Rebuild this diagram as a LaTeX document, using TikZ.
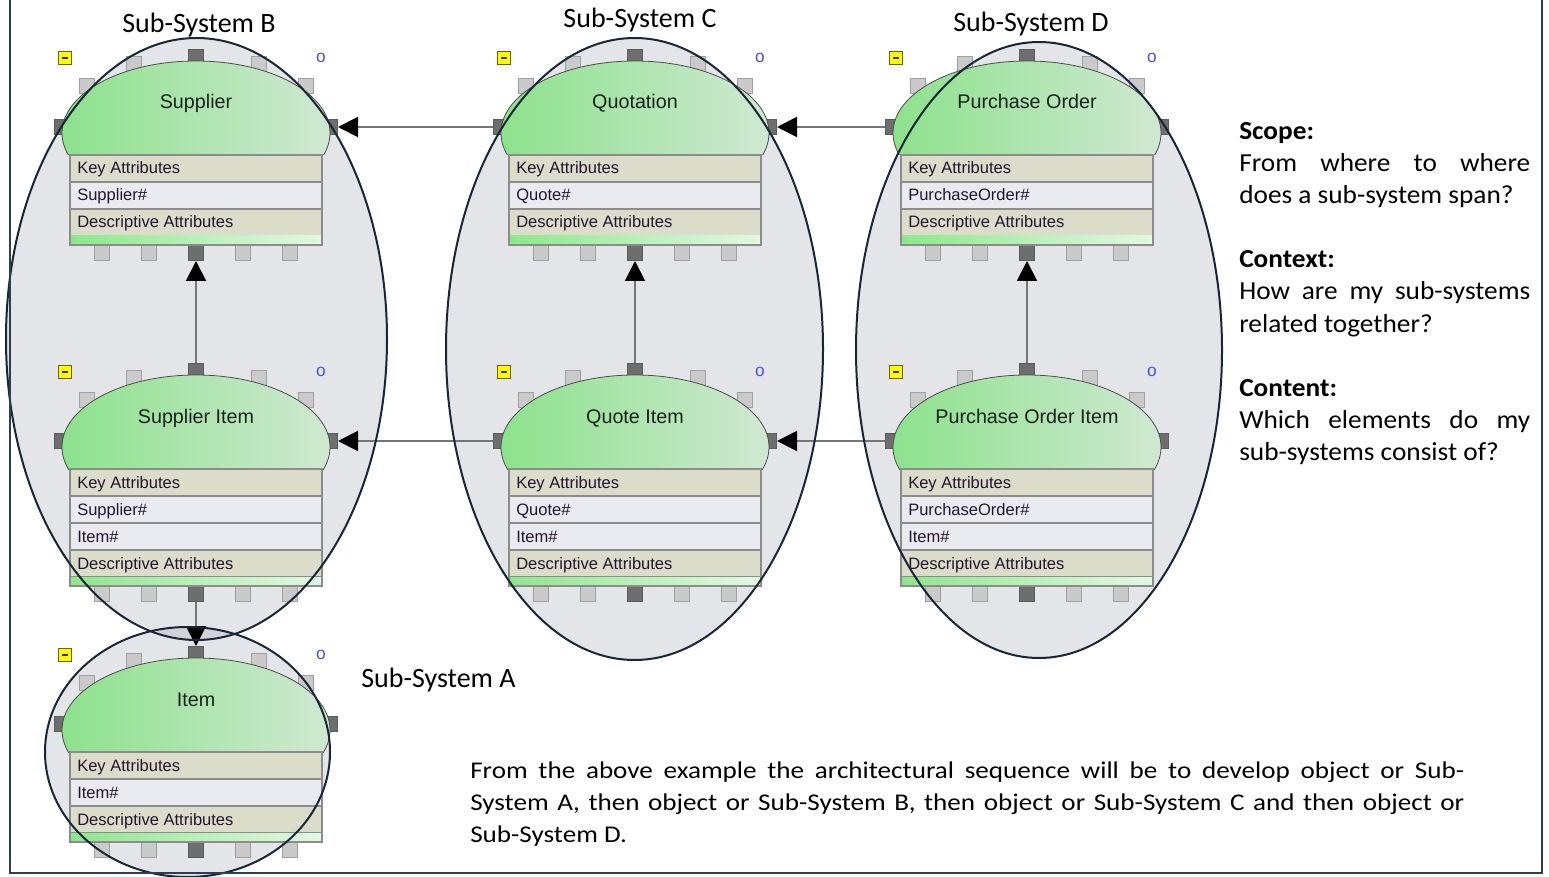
\documentclass[tikz,border=0pt]{standalone}
\usepackage{fontspec}
\setmainfont{Carlito}
\newfontfamily\uifont{Liberation Sans}
\newfontfamily\notefont[FakeStretch=1.05]{Carlito}
\newfontfamily\widefont[FakeStretch=1.13]{Carlito}
\usetikzlibrary{arrows.meta}

\definecolor{framecol}{RGB}{47,62,78}
\definecolor{ringcol}{RGB}{24,38,54}
\definecolor{haze}{RGB}{165,168,182}
\definecolor{domeL}{RGB}{140,226,140}
\definecolor{domeR}{RGB}{208,232,210}
\definecolor{barL}{RGB}{140,232,140}
\definecolor{barR}{RGB}{226,248,226}
\definecolor{rowK}{RGB}{220,220,202}
\definecolor{rowV}{RGB}{234,235,240}
\definecolor{rowline}{RGB}{140,140,140}
\definecolor{portL}{RGB}{202,202,202}
\definecolor{portLline}{RGB}{160,160,160}
\definecolor{portD}{RGB}{110,110,110}
\definecolor{portDline}{RGB}{92,92,92}
\definecolor{attrtext}{RGB}{36,20,48}
\definecolor{titletext}{RGB}{26,34,28}
\definecolor{linkgray}{RGB}{118,118,118}
\definecolor{omarkcol}{RGB}{80,80,220}
\definecolor{iconyel}{RGB}{255,250,0}
\definecolor{iconedge}{RGB}{110,100,0}

% one entity: name, centre x, top y, title, number of rows, rows (colour/text)
\newcommand\entity[6]{%
  \foreach \dx/\dy [count=\k] in {-62.5/6,62.5/6,-109.5/28,109.5/28}
    \node[lport] (#1-u\k) at (#2+\dx,#3+\dy) {};
  \node[dport] (#1-T) at (#2,#3-1) {};
  \node[dport] (#1-L) at (#2-134,#3+69) {};
  \node[dport] (#1-R) at (#2+134,#3+69) {};
  \foreach \dx [count=\k] in {-94,-47,47,94}
    \node[lport] (#1-b\k) at (#2+\dx,#3+114+27*#5) {};
  \node[dport] (#1-B) at (#2,#3+114+27*#5) {};
  \begin{scope}
    \clip (#2-150,#3-20) rectangle (#2+150,#3+97);
    \shade[left color=domeL,right color=domeR] (#2,#3+75) ellipse [x radius=134,y radius=72];
    \draw[domeedge] (#2,#3+75) ellipse [x radius=134,y radius=72];
  \end{scope}
  \node[entitytitle] (#1) at (#2,#3+51) {#4};
  \foreach \c/\t [count=\i from 0] in {#6} {
    \draw[rowedge,fill=\c] (#2-126,#3+97+27*\i) rectangle (#2+126,#3+124+27*\i);
    \node[attr] (#1-a\i) at (#2-119,#3+116+27*\i) {\t};
  }
  \shade[left color=barL,right color=barR] (#2-126,#3+97+27*#5) rectangle (#2+126,#3+106+27*#5);
  \draw[rowedge] (#2-126,#3+97) rectangle (#2+126,#3+106+27*#5);
  \node[icon] (#1-ic) at (#2-131,#3) {};
  \draw[icondash] (#1-ic.center) ++(-3,0) -- ++(6,0);
  \node[omark] (#1-o) at (#2+125,#3) {o};
}

\begin{document}
\begin{tikzpicture}[x=0.75pt,y=-0.75pt,
  lport/.style={draw=portLline,fill=portL,line width=0.75pt,minimum size=11.25pt,inner sep=0pt},
  dport/.style={draw=portDline,fill=portD,line width=0.75pt,minimum size=11.25pt,inner sep=0pt},
  domeedge/.style={draw=black!70,line width=0.6pt},
  rowedge/.style={draw=rowline,line width=1.1pt},
  entitytitle/.style={anchor=base,font=\uifont\fontsize{14.8}{17}\selectfont,text=titletext,inner sep=0pt},
  attr/.style={anchor=base west,font=\uifont\fontsize{12.4}{14}\selectfont,text=attrtext,inner sep=0pt},
  icon/.style={draw=iconedge,fill=iconyel,line width=0.6pt,minimum size=9.5pt,inner sep=0pt},
  icondash/.style={draw=black!80,line width=0.9pt},
  omark/.style={font=\uifont\fontsize{13}{14}\selectfont,text=omarkcol,inner sep=0pt},
  link/.style={draw=linkgray,line width=1.5pt,-{Triangle[length=15pt,width=15pt,color=black]}},
  subsysfill/.style={fill=haze,fill opacity=0.3},
  subsysring/.style={draw=ringcol,line width=1.5pt},
  sslabel/.style={font=\fontsize{21}{24}\selectfont,inner sep=0pt},
  note/.style={font=\notefont\fontsize{19.5}{24}\selectfont,inner sep=0pt,anchor=base west},
  bottomnote/.style={font=\widefont\fontsize{18}{24}\selectfont,inner sep=0pt,anchor=base west},
  framestyle/.style={draw=framecol,line width=1.9pt}
]
\useasboundingbox (0,0) rectangle (1549,877);
\clip (0,0) rectangle (1549,877);

% sub-system areas (shaded behind the entities)
\path[subsysfill] (196.5,339) ellipse [x radius=190.5,y radius=301];
\path[subsysfill] (634.5,349) ellipse [x radius=188.5,y radius=311];
\path[subsysfill] (1039,350) ellipse [x radius=183,y radius=308];
\path[subsysfill] (187.5,752) ellipse [x radius=142.5,y radius=125];

% entities
\entity{sup}{196}{58}{Supplier}{3}{rowK/Key Attributes,rowV/Supplier\#,rowK/Descriptive Attributes}
\entity{quo}{635}{58}{Quotation}{3}{rowK/Key Attributes,rowV/Quote\#,rowK/Descriptive Attributes}
\entity{po}{1027}{58}{Purchase Order}{3}{rowK/Key Attributes,rowV/PurchaseOrder\#,rowK/Descriptive Attributes}
\entity{supi}{196}{372}{Supplier Item}{4}{rowK/Key Attributes,rowV/Supplier\#,rowV/Item\#,rowK/Descriptive Attributes}
\entity{quoi}{635}{372}{Quote Item}{4}{rowK/Key Attributes,rowV/Quote\#,rowV/Item\#,rowK/Descriptive Attributes}
\entity{poi}{1027}{372}{Purchase Order Item}{4}{rowK/Key Attributes,rowV/PurchaseOrder\#,rowV/Item\#,rowK/Descriptive Attributes}
\entity{item}{196}{655}{Item}{3}{rowK/Key Attributes,rowV/Item\#,rowK/Descriptive Attributes}

% relationships
\draw[link] (quo-L.west) -- (sup-R.east);
\draw[link] (po-L.west) -- (quo-R.east);
\draw[link] (quoi-L.west) -- (supi-R.east);
\draw[link] (poi-L.west) -- (quoi-R.east);
\draw[link] (supi-T.north) -- (sup-B.south);
\draw[link] (quoi-T.north) -- (quo-B.south);
\draw[link] (poi-T.north) -- (po-B.south);
\draw[link] (supi-B.south) -- (item-T.north);

% sub-system boundaries
\draw[subsysring] (196.5,339) ellipse [x radius=190.5,y radius=301];
\draw[subsysring] (634.5,349) ellipse [x radius=188.5,y radius=311];
\draw[subsysring] (1039,350) ellipse [x radius=183,y radius=308];
\draw[subsysring] (187.5,752) ellipse [x radius=142.5,y radius=125];

% sub-system names
\node[sslabel,anchor=base] (nameB) at (199,33) {Sub-System B};
\node[sslabel,anchor=base] (nameC) at (640,28) {Sub-System C};
\node[sslabel,anchor=base] (nameD) at (1031,32) {Sub-System D};
\node[sslabel,anchor=base west] (nameA) at (361,687) {Sub-System A};

% questions
\node[note] (q1) at (1239,140) {\textbf{Scope:}};
\node[note] (q2) at (1239,172) {\makebox[218.25pt][s]{From where to where}};
\node[note] (q3) at (1239,204) {does a sub-system span?};
\node[note] (q4) at (1239,268) {\textbf{Context:}};
\node[note] (q5) at (1239,300) {\makebox[218.25pt][s]{How are my sub-systems}};
\node[note] (q6) at (1239,332) {related together?};
\node[note] (q7) at (1239,396) {\textbf{Content:}};
\node[note] (q8) at (1239,428) {\makebox[218.25pt][s]{Which elements do my}};
\node[note] (q9) at (1239,460) {sub-systems consist of?};

% sequence remark
\node[bottomnote] (s1) at (470,778) {\makebox[745.5pt][s]{From the above example the architectural sequence will be to develop object or Sub-}};
\node[bottomnote] (s2) at (470,810) {\makebox[745.5pt][s]{System A, then object or Sub-System B, then object or Sub-System C and then object or}};
\node[bottomnote] (s3) at (470,842) {Sub-System D.};

% frame
\draw[framestyle] (10,-5) -- (10,873) -- (1542,873) -- (1542,-5);
\end{tikzpicture}
\end{document}
